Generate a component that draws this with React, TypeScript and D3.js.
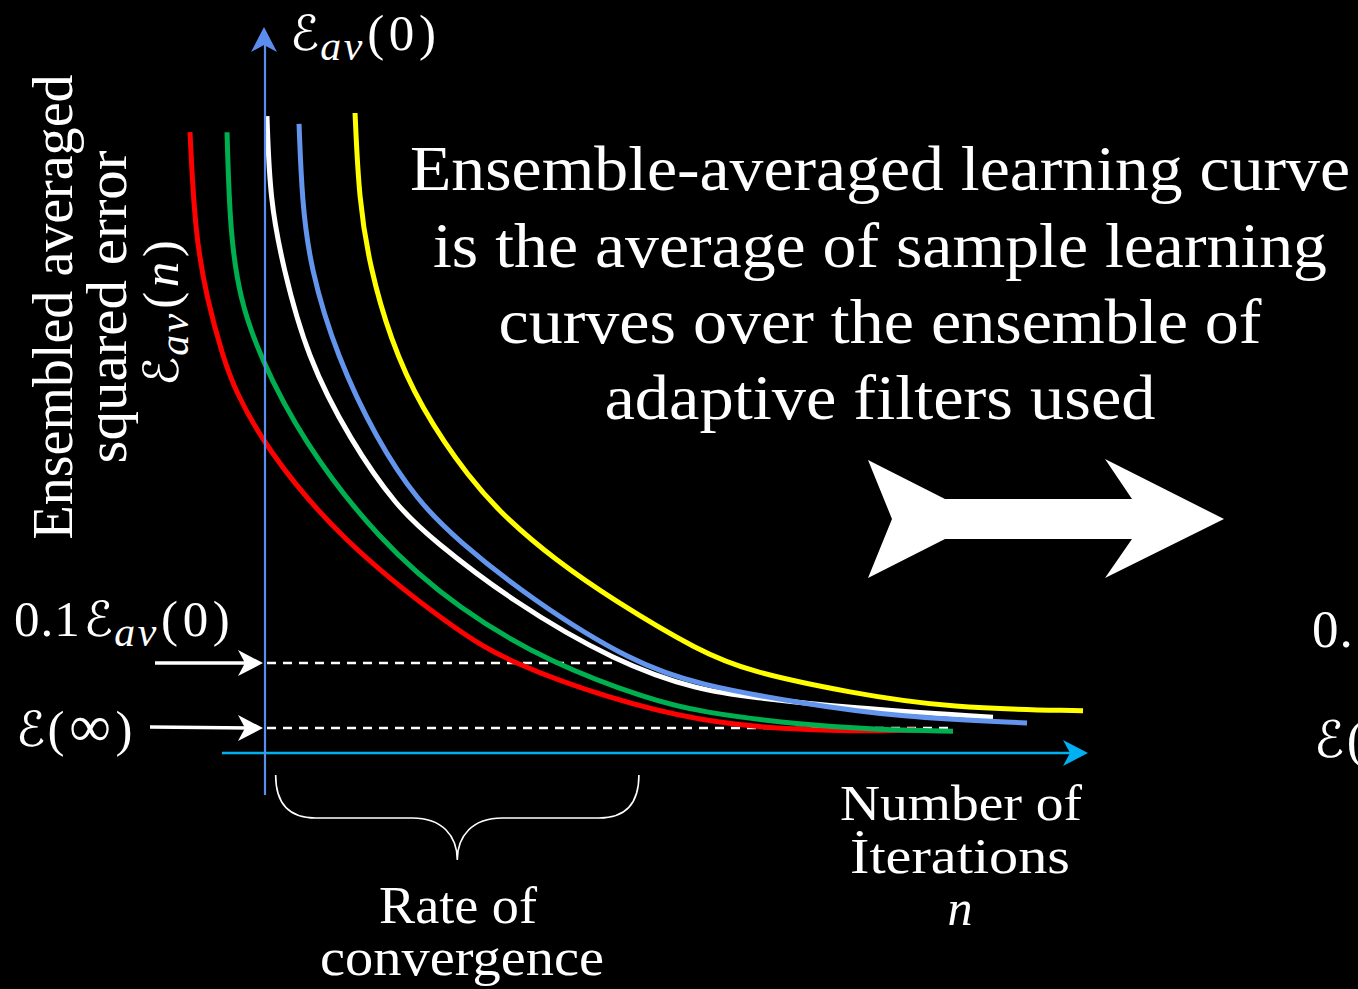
import React from "react";
import * as d3 from "d3";

const W = 1358;
const H = 989;

// Sample learning curves: iteration n vs. squared error (arbitrary units, 0..100)
const redCurve: [number, number][] = [
  [-9.15, 97.0], [-8.54, 81.3], [-7.07, 70.8], [-5.12, 61.9], [-3.66, 56.7], [0, 47.8],
  [9.15, 33.3], [23.2, 19.2], [29.88, 14.1], [42.44, 8.3], [53.05, 5.0],
  [62.8, 3.75], [71.34, 3.4], [79.27, 3.6],
];
const greenCurve: [number, number][] = [
  [-4.63, 97.0], [-4.27, 81.3], [-3.05, 70.8], [-0.61, 61.9], [4.51, 48.9], [13.78, 33.3],
  [23.78, 22.3], [34.76, 14.1], [46.95, 8.3], [53.05, 6.4], [65.24, 4.4],
  [75.0, 3.6], [83.9, 3.4],
];
const whiteCurve: [number, number][] = [
  [0.24, 99.5], [0.61, 86.4], [2.2, 75.9], [5.12, 61.9], [10.37, 48.9], [16.1, 38.4],
  [20.49, 33.3], [29.88, 23.9], [42.93, 14.1], [53.05, 9.8], [59.15, 8.75], [71.34, 7.0],
  [88.78, 5.6],
];
const blueCurve: [number, number][] = [
  [4.15, 98.3], [4.51, 86.4], [5.49, 75.9], [8.78, 61.9], [13.66, 48.9], [18.54, 39.5],
  [23.41, 33.3], [32.56, 23.9], [44.88, 14.1], [53.05, 10.6], [65.24, 7.8], [77.44, 5.6],
  [92.93, 4.7],
];
const yellowCurve: [number, number][] = [
  [10.98, 100], [11.46, 86.4], [12.8, 75.9], [15.24, 64.8], [18.9, 54.1], [25.0, 42.7],
  [29.63, 36.4], [35.37, 30.2], [42.44, 23.9], [53.05, 15.8], [59.15, 12.7], [71.34, 9.4],
  [83.54, 7.0], [99.76, 6.6],
];

const curves = [redCurve, greenCurve, whiteCurve, blueCurve, yellowCurve];
const curveColors = ["#FF0000", "#00B050", "#FFFFFF", "#6495ED", "#FFFF00"];

// Reference levels
const tenPercentLevel = 14.06; // 0.1 E_av(0)
const tenPercentEnd = 42.9;
const steadyStateLevel = 3.9; // E(inf)
const steadyStateEnd = 83.5;

// Brace span (rate of convergence)
const braceStart = 1.3;
const braceEnd = 45.6;

const headlineLines = [
  "Ensemble-averaged learning curve",
  "is the average of sample learning",
  "curves over the ensemble of",
  "adaptive filters used",
];
const yTitleLines = ["Ensembled averaged", "squared error"];
const xTitleLines = ["Number of", "İterations"];
const braceLabelLines = ["Rate of", "convergence"];

const xScale = d3.scaleLinear().domain([0, 100]).range([265, 1085]);
const yScale = d3.scaleLinear().domain([0, 100]).range([753, 113]);

const serif = "'Liberation Serif', 'Times New Roman', serif";
const mathFont = "'DejaVu Serif', 'DejaVu Sans', serif";

function ScriptE({ size }: { size: number }) {
  return (
    <tspan fontFamily={mathFont} fontStyle="italic" fontSize={size * 0.95}>
      ℰ
    </tspan>
  );
}

function EpsAv({ x, y, size, prefix, arg, argItalic }: {
  x: number; y: number; size: number; prefix?: string; arg: string; argItalic?: boolean;
}) {
  const sub = size * 0.2;
  const gap = size * 0.09;
  return (
    <text x={x} y={y} fill="#fff" fontFamily={serif} fontSize={size}>
      {prefix ? <tspan letterSpacing={size * 0.02}>{prefix}</tspan> : null}
      <tspan dx={prefix ? size * 0.06 : 0}><ScriptE size={size} /></tspan>
      <tspan fontStyle="italic" fontSize={size * 0.82} dy={sub} dx={size * 0.02} letterSpacing={size * 0.05}>av</tspan>
      <tspan dy={-sub} dx={gap * 0.5}>(</tspan>
      <tspan dx={gap} fontStyle={argItalic ? "italic" : "normal"}>{arg}</tspan>
      <tspan dx={gap}>)</tspan>
    </text>
  );
}

function EpsInf({ x, y, size }: { x: number; y: number; size: number }) {
  const gap = size * 0.09;
  return (
    <text x={x} y={y} fill="#fff" fontFamily={serif} fontSize={size}>
      <ScriptE size={size} />
      <tspan dx={gap * 0.5}>(</tspan>
      <tspan dx={gap} fontSize={size * 1.15}>∞</tspan>
      <tspan dx={gap}>)</tspan>
    </text>
  );
}

export default function App() {
  const line = d3
    .line<[number, number]>()
    .x((d) => xScale(d[0]))
    .y((d) => yScale(d[1]))
    .curve(d3.curveBasis);

  const yAxisX = xScale(0);
  const xAxisY = yScale(0);
  const yAxisTop = 27;
  const yAxisBottom = 795;
  const xAxisLeft = 222;
  const xAxisRight = 1088;

  const y01 = yScale(tenPercentLevel);
  const yInf = yScale(steadyStateLevel);

  // notched arrowhead pointing in +x direction, tip at origin
  const headPath = (len: number, half: number, notch: number) =>
    `M0,0 L${-len},${-half} L${-len + notch},0 L${-len},${half} Z`;

  const bx0 = xScale(braceStart);
  const bx1 = xScale(braceEnd);
  const bmid = (bx0 + bx1) / 2;
  const bTop = 775;
  const bMidY = 818;
  const bTip = 860;
  const bracePath = [
    `M${bx0},${bTop}`,
    `C${bx0},${bTop + 30} ${bx0 + 15},${bMidY} ${bx0 + 40},${bMidY}`,
    `L${bmid - 45},${bMidY}`,
    `C${bmid - 15},${bMidY} ${bmid},${bMidY + 18} ${bmid},${bTip}`,
    `C${bmid},${bMidY + 18} ${bmid + 15},${bMidY} ${bmid + 45},${bMidY}`,
    `L${bx1 - 40},${bMidY}`,
    `C${bx1 - 15},${bMidY} ${bx1},${bTop + 30} ${bx1},${bTop}`,
  ].join(" ");

  const bigArrow = [
    [868, 460], [945, 499], [1132, 499], [1105, 459], [1224, 519], [1105, 578],
    [1132, 539], [945, 539], [868, 578], [892, 519],
  ];

  const headlineBaselines = [190, 267, 343, 419];
  const headlineWidths = [940, 894, 763, 551];

  return (
    <svg
      width={W}
      height={H}
      viewBox={`0 0 ${W} ${H}`}
      style={{ position: "absolute", left: 0, top: 0, display: "block" }}
    >
      <rect x={0} y={0} width={W} height={H} fill="#000" />

      {/* headline */}
      {headlineLines.map((t, i) => (
        <text
          key={t}
          x={880}
          y={headlineBaselines[i]}
          textAnchor="middle"
          fill="#fff"
          fontFamily={serif}
          fontSize={63}
          textLength={headlineWidths[i]}
          lengthAdjust="spacingAndGlyphs"
        >
          {t}
        </text>
      ))}

      {/* big arrow */}
      <polygon points={bigArrow.map((p) => p.join(",")).join(" ")} fill="#fff" />

      {/* dashed reference levels */}
      <line x1={yAxisX + 2} x2={xScale(tenPercentEnd)} y1={y01} y2={y01}
        stroke="#fff" strokeWidth={2.4} strokeDasharray="9 7" />
      <line x1={yAxisX + 2} x2={xScale(steadyStateEnd)} y1={yInf} y2={yInf}
        stroke="#fff" strokeWidth={2.4} strokeDasharray="9 7" />

      {/* learning curves */}
      {curves.map((c, i) => (
        <path key={i} d={line(c) || ""} fill="none" stroke={curveColors[i]}
          strokeWidth={5} strokeLinecap="butt" />
      ))}

      {/* x axis */}
      <line x1={xAxisLeft} x2={xAxisRight - 14} y1={xAxisY} y2={xAxisY} stroke="#00B0F0" strokeWidth={2.5} />
      <path d={headPath(25, 13, 7)} transform={`translate(${xAxisRight},${xAxisY})`} fill="#00B0F0" />

      {/* y axis */}
      <line x1={yAxisX} x2={yAxisX} y1={yAxisBottom} y2={yAxisTop + 14} stroke="#5B8DEE" strokeWidth={2.2} />
      <path d={headPath(25, 13, 7)} transform={`translate(${yAxisX - 1},${yAxisTop}) rotate(-90)`} fill="#5B8DEE" />

      {/* level pointer arrows */}
      <line x1={155} x2={250} y1={y01} y2={y01} stroke="#fff" strokeWidth={3.5} />
      <path d={headPath(25, 13, 7)} transform={`translate(${yAxisX - 2},${y01})`} fill="#fff" />
      <line x1={150} x2={250} y1={yInf - 1} y2={yInf} stroke="#fff" strokeWidth={3.5} />
      <path d={headPath(25, 13, 7)} transform={`translate(${yAxisX - 2},${yInf})`} fill="#fff" />

      {/* math labels */}
      <EpsAv x={290} y={50} size={51} arg="0" />
      <EpsAv x={14} y={636} size={51} prefix="0.1" arg="0" />
      <EpsInf x={16} y={746} size={51} />
      <EpsAv x={1312} y={647} size={53} prefix="0.1" arg="0" />
      <EpsInf x={1314} y={757} size={53} />

      {/* y title (rotated) */}
      <text transform="translate(72,307) rotate(-90)" textAnchor="middle" fill="#fff"
        fontFamily={serif} fontSize={56} textLength={465} lengthAdjust="spacingAndGlyphs">
        {yTitleLines[0]}
      </text>
      <text transform="translate(126,307) rotate(-90)" textAnchor="middle" fill="#fff"
        fontFamily={serif} fontSize={56} textLength={313} lengthAdjust="spacingAndGlyphs">
        {yTitleLines[1]}
      </text>
      <g transform="translate(178,386) rotate(-90)">
        <EpsAv x={0} y={0} size={51} arg="n" argItalic />
      </g>

      {/* x title */}
      <text x={961} y={820} textAnchor="middle" fill="#fff" fontFamily={serif} fontSize={50}
        textLength={242} lengthAdjust="spacingAndGlyphs">{xTitleLines[0]}</text>
      <text x={960} y={873} textAnchor="middle" fill="#fff" fontFamily={serif} fontSize={50}
        textLength={220} lengthAdjust="spacingAndGlyphs">{xTitleLines[1]}</text>
      <text x={960} y={925} textAnchor="middle" fill="#fff" fontFamily={serif} fontSize={50}
        fontStyle="italic">n</text>

      {/* brace and label */}
      <path d={bracePath} fill="none" stroke="#fff" strokeWidth={1.6} />
      <text x={458} y={923} textAnchor="middle" fill="#fff" fontFamily={serif} fontSize={52}
        textLength={158} lengthAdjust="spacingAndGlyphs">{braceLabelLines[0]}</text>
      <text x={462} y={975} textAnchor="middle" fill="#fff" fontFamily={serif} fontSize={52}
        textLength={284} lengthAdjust="spacingAndGlyphs">{braceLabelLines[1]}</text>
    </svg>
  );
}
